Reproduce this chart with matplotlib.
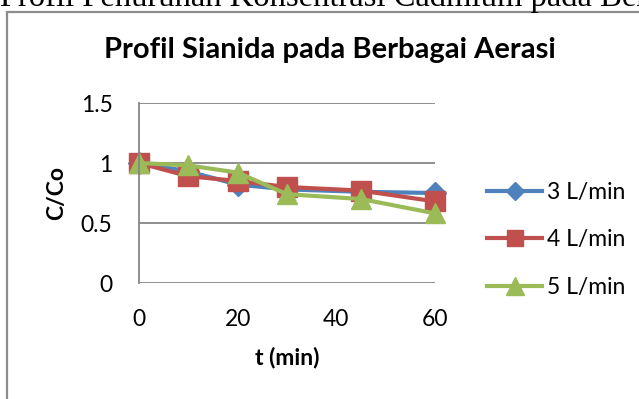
import matplotlib
matplotlib.use("Agg")
import matplotlib.pyplot as plt
from matplotlib.patches import Rectangle

# waktu (menit) dan rasio konsentrasi C/Co untuk tiap laju aerasi
t_min = [0, 10, 20, 30, 45, 60]
c_3lpm = [1.0, 0.93, 0.82, 0.78, 0.76, 0.75]
c_4lpm = [1.0, 0.89, 0.85, 0.80, 0.77, 0.68]
c_5lpm = [1.0, 0.98, 0.92, 0.74, 0.70, 0.58]
labels = ["3 L/min", "4 L/min", "5 L/min"]
yticks = [0, 0.5, 1, 1.5]
xticks = [0, 20, 40, 60]

plt.rcParams['font.family'] = ['Lato', 'DejaVu Sans']

fig = plt.figure(figsize=(6.39, 3.99), dpi=100)

# judul dokumen yang terpotong di atas
fig.text(0.0, 1 - 6 / 399, "Profil Penurunan Konsentrasi Cadmium pada Berbagai Aerasi",
         family='Liberation Serif', fontsize=23.5, ha='left', va='baseline')
# bingkai grafik
fig.add_artist(Rectangle((7 / 639, -0.2), 1.2, 1.2 - 12 / 399,
                         transform=fig.transFigure, fill=False,
                         edgecolor='#8c8c8c', linewidth=1.6))

ax = fig.add_axes([139 / 639, 1 - 283 / 399, (435 - 139) / 639, (283 - 103) / 399])

ax.plot(t_min, c_3lpm, color='#4F81BD', lw=3, marker='D', ms=11, label=labels[0])
ax.plot(t_min, c_4lpm, color='#C0504D', lw=3, marker='s', ms=14, label=labels[1])
ax.plot(t_min, c_5lpm, color='#9BBB59', lw=3, marker='^', ms=15, label=labels[2])

ax.set_xlim(0, 60)
ax.set_ylim(0, 1.5)
ax.set_xticks(xticks)
ax.set_yticks(yticks)
ax.set_yticklabels(["0", "0.5", "1", "1.5"])
ax.tick_params(axis='both', length=0, labelsize=16.5)
ax.tick_params(axis='y', pad=19)
ax.tick_params(axis='x', pad=19)
ax.grid(axis='y', color='#868686', lw=1.3)
ax.set_axisbelow(True)
for s in ['top', 'right', 'bottom']:
    ax.spines[s].set_visible(False)
ax.spines['left'].set_color('#868686')
ax.spines['left'].set_linewidth(1.3)
for line in ax.lines:
    line.set_clip_on(False)

ax.set_xlabel("t (min)", fontsize=16.5, fontweight='bold', labelpad=12)
ax.set_ylabel("C/Co", fontsize=16.5, fontweight='bold', labelpad=10)

fig.text(330 / 639, 1 - 50 / 399, "Profil Sianida pada Berbagai Aerasi",
         fontsize=21, fontweight='bold', ha='center', va='center')

fig.legend(loc='center left', bbox_to_anchor=(487 / 639, 1 - 240 / 399),
           frameon=False, fontsize=16.5, handlelength=2.4, handletextpad=0.2,
           labelspacing=1.15, borderpad=0, borderaxespad=0, markerscale=0.85)

fig.savefig("out.png", dpi=100)
